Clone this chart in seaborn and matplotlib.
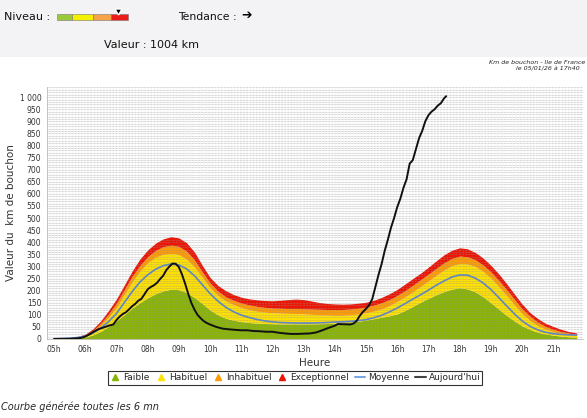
import numpy as np
import pandas as pd
import matplotlib
matplotlib.use("Agg")
import matplotlib.pyplot as plt
from matplotlib.patches import Rectangle, Polygon
from matplotlib.lines import Line2D
import seaborn as sns

# --- reference bands (km), every 15 min from 05h00 to 21h45 ---
hours = np.arange(5.0, 21.76, 0.25)
faible = [0, 1, 2, 4, 8, 17, 32, 52, 75, 100, 127, 150, 170, 187, 199, 206,
          204, 192, 172, 147, 120, 100, 86, 78, 72, 68, 66, 64, 63, 62, 62, 62,
          62, 62, 63, 64, 65, 67, 70, 73, 78, 84, 90, 96, 104, 118, 135, 152,
          168, 183, 196, 206, 212, 207, 195, 175, 150, 124, 98, 75, 55, 40, 28, 21,
          16, 12, 9, 6]
moyenne = [1, 2, 3, 6, 12, 25, 45, 72, 105, 150, 195, 235, 265, 288, 303, 310,
           306, 290, 262, 225, 188, 157, 132, 113, 99, 89, 81, 75, 71, 68, 67, 66,
           66, 66, 67, 68, 70, 71, 73, 76, 80, 88, 98, 112, 128, 146, 165, 183,
           202, 222, 240, 256, 265, 264, 252, 232, 205, 172, 138, 105, 75, 53, 38, 28,
           22, 19, 17, 16]
habituel = [1, 2, 4, 7, 14, 30, 55, 90, 130, 183, 235, 280, 315, 338, 350, 354,
            349, 330, 298, 255, 212, 180, 158, 142, 130, 121, 115, 111, 108, 107, 106, 105,
            104, 102, 100, 99, 98, 98, 100, 103, 108, 115, 125, 138, 155, 174, 195, 217,
            240, 263, 285, 303, 312, 310, 300, 280, 252, 218, 180, 142, 105, 77, 55, 40,
            30, 23, 18, 15]
inhabituel = [1, 2, 4, 8, 16, 35, 65, 103, 148, 203, 258, 303, 340, 366, 382, 388,
              383, 363, 327, 278, 232, 198, 175, 160, 149, 141, 135, 131, 128, 127, 126, 126,
              125, 124, 123, 122, 122, 122, 124, 127, 132, 140, 150, 163, 180, 200, 222, 245,
              268, 292, 315, 333, 343, 340, 328, 306, 278, 243, 205, 165, 125, 95, 70, 52,
              40, 31, 24, 20]
exceptionnel = [2, 3, 5, 10, 20, 42, 75, 118, 165, 222, 280, 330, 368, 396, 414, 423,
                418, 398, 360, 305, 255, 222, 200, 184, 173, 166, 162, 159, 158, 160, 163, 165,
                163, 157, 151, 147, 145, 144, 145, 148, 152, 160, 172, 187, 205, 227, 250, 272,
                297, 323, 348, 367, 377, 373, 358, 335, 305, 270, 230, 187, 145, 110, 85, 65,
                52, 40, 31, 25]

# --- today's curve (km) ---
today_h = [5.0, 5.5, 5.85, 6.0, 6.15, 6.3, 6.45, 6.6, 6.75, 6.9, 7.0, 7.1, 7.2, 7.3,
           7.4, 7.5, 7.6, 7.7, 7.8, 7.9, 8.0, 8.1, 8.2, 8.3, 8.4, 8.5, 8.6, 8.7,
           8.8, 8.9, 9.0, 9.1, 9.2, 9.3, 9.4, 9.5, 9.6, 9.7, 9.8, 9.9, 10.0, 10.2,
           10.4, 10.6, 10.8, 11.0, 11.2, 11.4, 11.6, 11.8, 12.0, 12.2, 12.4, 12.6,
           12.8, 13.0, 13.2, 13.4, 13.6, 13.8, 14.0, 14.1, 14.3, 14.5, 14.6, 14.7,
           14.8, 14.9, 15.0, 15.1, 15.2, 15.3, 15.4, 15.5, 15.6, 15.7, 15.8, 15.9,
           16.0, 16.1, 16.2, 16.3, 16.4, 16.5, 16.6, 16.7, 16.8, 16.9, 17.0, 17.1,
           17.2, 17.3, 17.4, 17.5, 17.57]
today_v = [0, 1, 4, 10, 20, 32, 42, 48, 55, 60, 78, 92, 103, 110,
           122, 135, 145, 158, 166, 185, 205, 215, 222, 232, 248, 262, 285, 300,
           312, 311, 298, 268, 230, 188, 150, 122, 100, 86, 74, 66, 60, 50,
           43, 40, 38, 36, 36, 33, 32, 30, 30, 26, 23, 21,
           21, 22, 23, 27, 36, 46, 55, 62, 61, 60, 64, 75,
           96, 112, 125, 140, 165, 215, 265, 310, 365, 410, 460, 500,
           545, 580, 625, 660, 725, 740, 785, 830, 860, 900, 925, 940,
           950, 965, 975, 995, 1004]

hour_labels = [f"{h:02d}h" for h in range(5, 22)]
legend_labels = ["Faible", "Habituel", "Inhabituel", "Exceptionnel", "Moyenne", "Aujourd'hui"]

c_green, c_yellow, c_orange, c_red = "#88b400", "#ffe100", "#ff9a00", "#ee1100"
c_mean, c_today = "#5f86c6", "#111111"

sns.set_style("white")
plt.rcParams["font.family"] = ["DejaVu Sans"]

fig = plt.figure(figsize=(5.87, 4.18), dpi=100)
fig.patch.set_facecolor("white")

# top panel
fig.patches.append(Rectangle((0, 1 - 57 / 418), 1, 57 / 418, transform=fig.transFigure,
                             facecolor="#f3f3f5", edgecolor="none", zorder=0))
fig.text(4 / 587, 1 - 17 / 418, "Niveau :", fontsize=8, va="center", color="#111")
seg_cols = ["#9cc93a", "#f4f000", "#f6a447", "#ee1b1b"]
seg_x = [57, 72, 93, 111, 128]
for i, col in enumerate(seg_cols):
    fig.patches.append(Rectangle((seg_x[i] / 587, 1 - 20 / 418), (seg_x[i + 1] - seg_x[i]) / 587,
                                 6 / 418, transform=fig.transFigure, facecolor=col,
                                 edgecolor="#777", linewidth=0.4))
fig.patches.append(Polygon([(115 / 587, 1 - 9 / 418), (122 / 587, 1 - 9 / 418), (118.5 / 587, 1 - 15 / 418)],
                           closed=True, transform=fig.transFigure, facecolor="black"))
fig.text(178 / 587, 1 - 17 / 418, "Tendance :", fontsize=7.8, va="center", color="#111")
fig.text(241 / 587, 1 - 16 / 418, "\u2794", fontsize=9, va="center", color="black",
         fontweight="bold")
fig.text(104 / 587, 1 - 45 / 418, "Valeur : 1004 km", fontsize=8, va="center", color="#111")

fig.text(585 / 587, 1 - 62 / 418, "Km de bouchon - Ile de France", fontsize=4.5,
         style="italic", ha="right", va="center")
fig.text(580 / 587, 1 - 69 / 418, "le 05/01/26 à 17h40", fontsize=4.5,
         style="italic", ha="right", va="center")
fig.text(1 / 587, 1 - 407 / 418, "Courbe générée toutes les 6 mn", fontsize=7,
         style="italic", va="center")

ax = fig.add_axes([47 / 587, 1 - 339 / 418, 536 / 587, 252 / 418])

df = pd.DataFrame({"h": hours, "faible": faible, "moyenne": moyenne, "habituel": habituel,
                   "inhabituel": inhabituel, "exceptionnel": exceptionnel})
ax.fill_between(df["h"], 0, df["faible"], color=c_green, lw=0, zorder=1)
ax.fill_between(df["h"], df["faible"], df["habituel"], color=c_yellow, lw=0, zorder=1)
ax.fill_between(df["h"], df["habituel"], df["inhabituel"], color=c_orange, lw=0, zorder=1)
ax.fill_between(df["h"], df["inhabituel"], df["exceptionnel"], color=c_red, lw=0, zorder=1)

# fine dotted grid over everything
for y in range(10, 1041, 10):
    ax.axhline(y, color="#909090", lw=0.5, ls=(0, (1.2, 0.9)), alpha=0.6, zorder=2)
for x in np.arange(4.8, 22.0, 0.1):
    ax.axvline(x, color="#b0b0b0", lw=0.3, alpha=0.35, zorder=2)

sns.lineplot(data=df, x="h", y="moyenne", ax=ax, color=c_mean, lw=1.2, zorder=3)
sns.lineplot(x=today_h, y=today_v, ax=ax, color=c_today, lw=1.4, zorder=4)

ax.set_xlim(4.776, 21.955)
ax.set_ylim(0, 1042)
ax.set_xticks(range(5, 22))
ax.set_xticklabels(hour_labels)
yt = list(range(0, 1001, 50))
ax.set_yticks(yt)
ax.set_yticklabels([f"{v:,}".replace(",", " ") for v in yt])
ax.tick_params(labelsize=5.5, length=2, width=0.5, colors="#333", pad=2)
for s in ["top", "right"]:
    ax.spines[s].set_visible(False)
for s in ["left", "bottom"]:
    ax.spines[s].set_color("#bbbbbb")
    ax.spines[s].set_linewidth(0.6)
ax.set_xlabel("Heure", fontsize=7.5, color="#333", labelpad=3)
ax.set_ylabel("Valeur du  km de bouchon", fontsize=7.5, color="#333", labelpad=3)

handles = [Line2D([], [], marker="^", ls="none", color=c, markersize=4)
           for c in [c_green, c_yellow, c_orange, c_red]]
handles += [Line2D([], [], color="#7ea6e6", lw=1.5), Line2D([], [], color="#444", lw=1.5)]
leg = fig.legend(handles, legend_labels, loc="center", bbox_to_anchor=(295 / 587, 1 - 378 / 418),
                 ncol=6, fontsize=6.5, frameon=True, fancybox=False, handlelength=1.2,
                 handletextpad=0.3, columnspacing=0.6, borderpad=0.25, edgecolor="black")
leg.get_frame().set_linewidth(0.8)

fig.savefig("out.png", dpi=100)
